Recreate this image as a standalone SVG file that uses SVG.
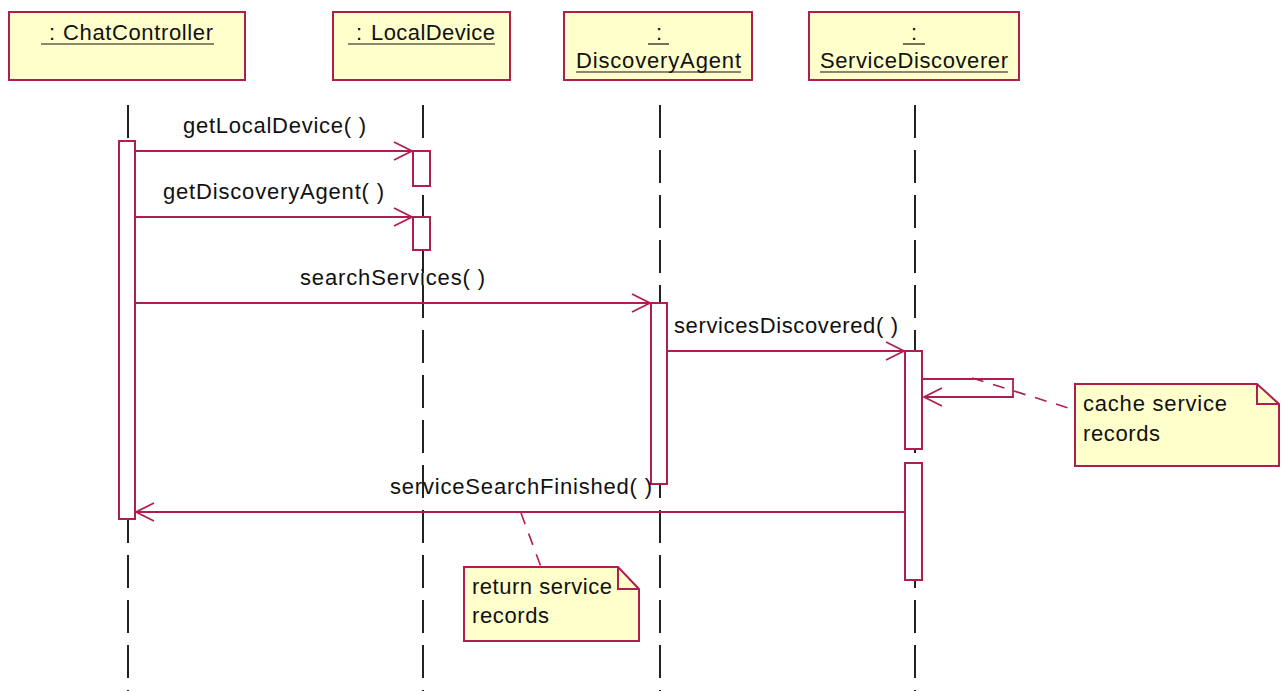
<svg xmlns="http://www.w3.org/2000/svg" width="1285" height="691" viewBox="0 0 1285 691">
  <style>
    .obj { fill: #FFFFCC; stroke: #B01E50; stroke-width: 2; }
    .act { fill: #FFFFFF; stroke: #B01E50; stroke-width: 2; }
    .note { fill: #FFFFCC; stroke: #B01E50; stroke-width: 2; }
    .fold { fill: none; stroke: #B01E50; stroke-width: 2; }
    .life { stroke: #222222; stroke-width: 2; stroke-dasharray: 33 12; fill: none; }
    .msg { stroke: #B01E50; stroke-width: 1.8; fill: none; marker-end: url(#open); }
    .link { stroke: #B01E50; stroke-width: 1.6; stroke-dasharray: 12 10; fill: none; }
    .ul { stroke: #111111; stroke-width: 1.2; }
    text { font-family: "Liberation Sans", Arial, sans-serif; font-size: 22px; fill: #111111; }
  </style>
  <defs>
    <marker id="open" viewBox="0 0 20 20" refX="19" refY="10" markerWidth="20" markerHeight="20" markerUnits="userSpaceOnUse" orient="auto">
      <path d="M1,1 L19,10 L1,19" fill="none" stroke="#B01E50" stroke-width="1.8"/>
    </marker>
  </defs>

  <rect width="1285" height="691" fill="#FFFFFF"/>

  <!-- lifelines -->
  <g id="lifelines">
    <line class="life" x1="128" y1="105" x2="128" y2="691"/>
    <line class="life" x1="423" y1="105" x2="423" y2="691"/>
    <line class="life" x1="660" y1="105" x2="660" y2="691"/>
    <line class="life" x1="915" y1="105" x2="915" y2="691"/>
  </g>

  <!-- object heads -->
  <g id="chatController">
    <rect class="obj" x="9" y="12" width="236" height="68"/>
    <text x="49" y="40">:</text>
    <text x="63" y="40" textLength="150" lengthAdjust="spacing">ChatController</text>
    <line class="ul" x1="41" y1="44" x2="214" y2="44"/>
  </g>
  <g id="localDevice">
    <rect class="obj" x="333" y="12" width="177" height="68"/>
    <text x="356" y="40">:</text>
    <text x="371" y="40" textLength="124" lengthAdjust="spacing">LocalDevice</text>
    <line class="ul" x1="348" y1="44" x2="495" y2="44"/>
  </g>
  <g id="discoveryAgent">
    <rect class="obj" x="564" y="12" width="188" height="68"/>
    <text x="656" y="40">:</text>
    <line class="ul" x1="648" y1="44" x2="669" y2="44"/>
    <text x="576" y="68" textLength="165" lengthAdjust="spacing">DiscoveryAgent</text>
    <line class="ul" x1="576" y1="72" x2="741" y2="72"/>
  </g>
  <g id="serviceDiscoverer">
    <rect class="obj" x="809" y="12" width="210" height="68"/>
    <text x="911" y="40">:</text>
    <line class="ul" x1="903" y1="44" x2="925" y2="44"/>
    <text x="820" y="68" textLength="188" lengthAdjust="spacing">ServiceDiscoverer</text>
    <line class="ul" x1="820" y1="72" x2="1008" y2="72"/>
  </g>

  <!-- activation bars -->
  <g id="activations">
    <rect class="act" x="119" y="141" width="16" height="378"/>
    <rect class="act" x="413" y="151" width="17" height="35"/>
    <rect class="act" x="413" y="217" width="17" height="33"/>
    <rect class="act" x="651" y="303" width="16" height="181"/>
    <rect class="act" x="905" y="351" width="17" height="98"/>
    <rect class="act" x="905" y="463" width="17" height="117"/>
  </g>

  <!-- messages and note links -->
  <g id="connectors">
    <line class="msg" x1="135" y1="151" x2="412" y2="151"/>
    <text x="183" y="133" textLength="183" lengthAdjust="spacing">getLocalDevice( )</text>

    <line class="msg" x1="135" y1="217" x2="412" y2="217"/>
    <text x="163" y="199" textLength="221" lengthAdjust="spacing">getDiscoveryAgent( )</text>

    <line class="msg" x1="135" y1="303" x2="650" y2="303"/>
    <text x="300" y="285" textLength="185" lengthAdjust="spacing">searchServices( )</text>

    <line class="msg" x1="667" y1="351" x2="904" y2="351"/>
    <text x="674" y="333" textLength="224" lengthAdjust="spacing">servicesDiscovered( )</text>

    <path class="msg" d="M922,379 H1013 V397 H924"/>

    <line class="msg" x1="905" y1="512" x2="136" y2="512"/>
    <text x="390" y="494" textLength="262" lengthAdjust="spacing">serviceSearchFinished( )</text>

    <line class="link" x1="972" y1="378" x2="1075" y2="410"/>
    <line class="link" x1="521" y1="513" x2="541" y2="567"/>
  </g>

  <!-- notes -->
  <g id="noteCache">
    <path class="note" d="M1075,384 H1257 L1279,404 V466 H1075 Z"/>
    <path class="fold" d="M1257,384 V404 H1279"/>
    <text x="1083" y="411" textLength="144" lengthAdjust="spacing">cache service</text>
    <text x="1083" y="441" textLength="77" lengthAdjust="spacing">records</text>
  </g>
  <g id="noteReturn">
    <path class="note" d="M464,567 H618 L639,589 V641 H464 Z"/>
    <path class="fold" d="M618,567 V589 H639"/>
    <text x="472" y="594" textLength="140" lengthAdjust="spacing">return service</text>
    <text x="472" y="623" textLength="77" lengthAdjust="spacing">records</text>
  </g>
</svg>
